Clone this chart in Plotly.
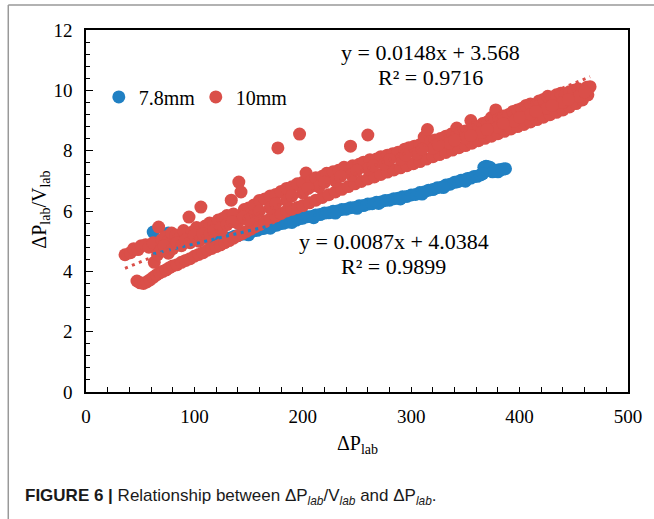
import plotly.graph_objects as go

# ---------------- data ----------------
blue_name = "7.8mm"
red_name = "10mm"

blue_x = [62, 76, 118,
          122, 125, 128, 131, 134, 137, 140, 143, 146, 149, 152, 155, 158, 161,
          164, 167, 170, 173, 176, 179, 182, 185, 188, 191, 194, 197, 200, 204,
          208, 212, 216, 220, 224, 228, 232, 236, 240, 244, 248, 252, 256, 260,
          264, 268, 272, 276, 280, 284, 288, 292, 296, 300, 304, 308, 312, 316,
          320, 324, 328, 332, 336, 340, 343, 346, 349, 352, 355, 358, 361, 364,
          367, 369, 371, 373, 375, 377, 379, 381, 383, 385, 387,
          130, 150, 170, 190, 210, 230, 250, 270, 290, 310, 330, 350, 366, 380]
blue_y = [5.30, 5.27, 4.97,
          5.00, 5.05, 5.05, 5.10, 5.11, 5.16, 5.18, 5.23, 5.24, 5.29, 5.30, 5.35, 5.36, 5.41,
          5.42, 5.47, 5.48, 5.52, 5.53, 5.58, 5.59, 5.63, 5.64, 5.69, 5.70, 5.75, 5.76, 5.81,
          5.82, 5.87, 5.88, 5.93, 5.94, 5.99, 6.00, 6.05, 6.06, 6.11, 6.12, 6.17, 6.18, 6.23,
          6.24, 6.29, 6.30, 6.35, 6.36, 6.41, 6.42, 6.47, 6.48, 6.53, 6.55, 6.61, 6.63, 6.69,
          6.71, 6.77, 6.79, 6.86, 6.89, 6.95, 6.97, 7.02, 7.03, 7.08, 7.09, 7.14, 7.15, 7.20,
          7.45, 7.48, 7.47, 7.44, 7.30, 7.33, 7.34, 7.37, 7.37, 7.39, 7.40,
          5.02, 5.21, 5.43, 5.62, 5.78, 5.93, 6.09, 6.25, 6.40, 6.56, 6.78, 6.99, 7.24, 7.30]

red_x = [36, 41, 44, 48, 51, 55, 58, 62, 67, 70, 73, 76, 79, 83, 86, 90, 95, 98,
         102, 106, 110, 114, 118, 122, 126, 130, 134, 136, 141, 143, 146, 150, 155,
         160, 165, 170, 175, 177, 180, 185, 190, 195, 197, 200, 203, 208, 212, 218,
         222, 228, 233, 238, 244, 246, 252, 256, 260, 262, 268, 272, 278, 283, 288,
         294, 298, 303, 308, 312, 315, 318, 322, 327, 332, 337, 342, 346, 350, 355,
         358, 362, 366, 370, 374, 378, 381, 385, 390, 394, 398, 402, 406, 410, 414,
         418, 422, 426, 430, 434, 438, 442, 446, 450, 454, 458, 462, 465,
         47, 50, 53, 56, 59, 62, 65, 68, 71, 74, 77, 80, 84, 88, 92, 96, 100, 104,
         108, 112, 116, 120, 124, 128, 132, 136, 140, 144, 148, 152, 156, 160, 165,
         170, 175, 180, 185, 190, 195, 200, 206, 212, 218, 224, 230, 236, 242, 248,
         254, 260, 266, 272, 278, 284, 290, 296, 302, 308, 314, 320, 326, 332, 338,
         344, 350, 356, 362, 368, 374, 380, 386, 392, 398, 404, 410, 416, 422, 428,
         434, 440, 446, 452, 458, 463,
         110, 125, 140, 155, 170, 185, 200, 215, 230, 245, 260, 275, 290, 305, 320,
         335, 350, 365, 380, 395, 410, 425, 440, 455,
         63, 66, 69, 72, 76, 80, 84, 88, 92, 96, 100, 104, 108, 114, 118, 124, 130,
         135, 145, 150, 160, 175, 190, 205, 220, 235, 250, 265, 280, 295, 310, 325,
         340, 355, 370, 385, 400, 415, 430, 445, 460]
red_y = [4.55, 4.62, 4.75, 4.72, 4.85, 4.88, 4.80, 4.95, 5.47, 5.05, 5.15, 5.00, 5.27, 5.20, 5.10, 5.35, 5.80, 5.30,
         5.45, 6.13, 5.50, 5.60, 5.55, 5.70, 5.75, 5.85, 6.36, 5.90, 6.96, 6.63, 6.05, 6.10, 6.20,
         6.35, 6.40, 6.50, 6.55, 8.09, 6.65, 6.75, 6.80, 6.90, 8.55, 6.95, 7.26, 7.00, 7.10, 7.15,
         7.25, 7.30, 7.35, 7.45, 8.15, 7.50, 7.55, 7.62, 8.52, 7.70, 7.72, 7.80, 7.85, 7.90, 7.95,
         8.05, 8.10, 8.15, 8.20, 8.45, 8.70, 8.30, 8.35, 8.40, 8.48, 8.55, 8.75, 8.60, 8.65, 9.00,
         8.75, 8.80, 8.90, 8.95, 9.10, 9.35, 9.05, 9.15, 9.20, 9.30, 9.35, 9.40, 9.50, 9.55, 9.50,
         9.65, 9.70, 9.80, 9.75, 9.85, 9.90, 9.85, 9.95, 10.00, 10.05, 10.00, 10.10, 10.12,
         3.68, 3.62, 3.60, 3.65, 3.72, 3.80, 3.88, 3.95, 4.00, 4.05, 4.12, 4.18, 4.22, 4.30, 4.36, 4.42, 4.50, 4.56,
         4.62, 4.70, 4.76, 4.82, 4.88, 4.95, 5.02, 5.10, 5.18, 5.25, 5.32, 5.40, 5.48, 5.55, 5.65,
         5.75, 5.83, 5.92, 6.00, 6.06, 6.12, 6.18, 6.27, 6.36, 6.45, 6.54, 6.63, 6.72, 6.81, 6.90,
         6.98, 7.06, 7.13, 7.21, 7.29, 7.36, 7.43, 7.50, 7.57, 7.64, 7.72, 7.80, 7.87, 7.94, 8.02,
         8.10, 8.17, 8.25, 8.33, 8.41, 8.48, 8.56, 8.64, 8.72, 8.80, 8.87, 8.95, 9.03, 9.11, 9.19,
         9.27, 9.35, 9.45, 9.56, 9.68, 9.85,
         5.10, 5.35, 5.60, 5.85, 6.10, 6.35, 6.60, 6.80, 7.00, 7.20, 7.40, 7.55, 7.72, 7.90, 8.08,
         8.25, 8.42, 8.60, 8.78, 8.98, 9.20, 9.40, 9.60, 9.80,
         4.30, 4.55, 4.70, 4.85, 4.60, 4.75, 4.95, 4.85, 5.05, 4.95, 5.20, 5.00, 5.25, 5.20, 5.35, 5.45, 5.55,
         5.65, 5.80, 5.70, 6.00, 6.25, 6.50, 6.75, 6.95, 7.15, 7.35, 7.50, 7.70, 7.85, 8.05, 8.20,
         8.35, 8.50, 8.70, 8.90, 9.10, 9.30, 9.50, 9.70, 9.95]

# linear trendline coefficients (slope, intercept) and R² shown on the chart
blue_fit = [0.0087, 4.0384]
red_fit = [0.0148, 3.568]
blue_label = ["y = 0.0087x + 4.0384", "R² = 0.9899"]
red_label = ["y = 0.0148x + 3.568", "R² = 0.9716"]

x_ticks = [0, 100, 200, 300, 400, 500]
y_ticks = [0, 2, 4, 6, 8, 10, 12]

# ---------------- styling ----------------
BLUE = "#2080C3"
RED = "#DA4F49"
SERIF = "Liberation Serif, Times New Roman, serif"
SANS = "Liberation Sans Narrow, Arial Narrow, Liberation Sans, Arial, sans-serif"
MSIZE = 13

fig = go.Figure()
fig.add_trace(go.Scatter(x=blue_x, y=blue_y, mode="markers", name=blue_name,
                         marker=dict(color=BLUE, size=MSIZE, line=dict(width=0))))
fig.add_trace(go.Scatter(x=red_x, y=red_y, mode="markers", name=red_name,
                         marker=dict(color=RED, size=MSIZE, line=dict(width=0))))

for xs, fit, col in [(blue_x, blue_fit, BLUE), (red_x, red_fit, RED)]:
    x0, x1 = min(xs), max(xs)
    fig.add_trace(go.Scatter(x=[x0, x1], y=[fit[0] * x0 + fit[1], fit[0] * x1 + fit[1]],
                             mode="lines", showlegend=False, hoverinfo="skip",
                             line=dict(color=col, width=3, dash="3px,4.5px")))

axis_common = dict(showgrid=False, zeroline=False, showline=True, linecolor="black",
                   linewidth=1.5, mirror=True, ticks="inside", tickcolor="black",
                   tickfont=dict(family=SERIF, size=19, color="black"))

fig.update_xaxes(range=[0, 500], tickvals=x_ticks, ticklen=5, tickwidth=1.3,
                 ticklabelstandoff=6,
                 minor=dict(dtick=20, ticks="inside", ticklen=5, tickwidth=1.3, tickcolor="black"),
                 **axis_common)
fig.update_yaxes(range=[0, 12], tickvals=y_ticks, ticklen=7, tickwidth=1.3,
                 ticklabelstandoff=8,
                 minor=dict(dtick=0.4, ticks="inside", ticklen=4, tickwidth=1.3, tickcolor="black"),
                 **axis_common)


def note(text, x, y, size, family=SERIF, angle=0, xanchor="center", color="black"):
    return dict(text=text, x=x, y=y, xref="paper", yref="paper", showarrow=False,
                xanchor=xanchor, yanchor="middle", textangle=angle,
                font=dict(family=family, size=size, color=color))


ann = [
    note("ΔP<sub>lab</sub>", 0.501, -0.144, 20),
    note("ΔP<sub>lab</sub>/V<sub>lab</sub>", -0.0835, 0.503, 20, angle=-90),
    note(red_label[0], 0.635, 0.939, 22),
    note(red_label[1], 0.635, 0.870, 22),
    note(blue_label[0], 0.568, 0.417, 22),
    note(blue_label[1], 0.568, 0.348, 22),
    note("<b>FIGURE 6 |</b> Relationship between ΔP<sub><i>lab</i></sub>/V<sub><i>lab</i></sub> and ΔP<sub><i>lab</i></sub>.",
         -0.116, -0.29, 17, family=SANS, xanchor="left", color="#1a1a1a"),
]

shapes = [
    dict(type="line", xref="paper", yref="paper", x0=-0.1434, x1=1.05, y0=1.069, y1=1.069,
         line=dict(color="#999999", width=1.5)),
    dict(type="line", xref="paper", yref="paper", x0=-0.1434, x1=-0.1434, y0=1.069, y1=-0.36,
         line=dict(color="#999999", width=1.5)),
]

fig.update_layout(
    width=654, height=519,
    margin=dict(l=86, r=17, t=30, b=127),
    paper_bgcolor="white", plot_bgcolor="white",
    annotations=ann, shapes=shapes,
    legend=dict(orientation="h", x=0.0236, y=0.815, xanchor="left", yanchor="middle",
                bgcolor="rgba(0,0,0,0)", font=dict(family=SERIF, size=20, color="black"),
                itemsizing="trace", entrywidth=52, tracegroupgap=0),
    showlegend=True,
)

fig.write_html("out.html", config={"displayModeBar": False},
               post_script="document.body.style.margin='0px';document.body.style.overflow='hidden';")
